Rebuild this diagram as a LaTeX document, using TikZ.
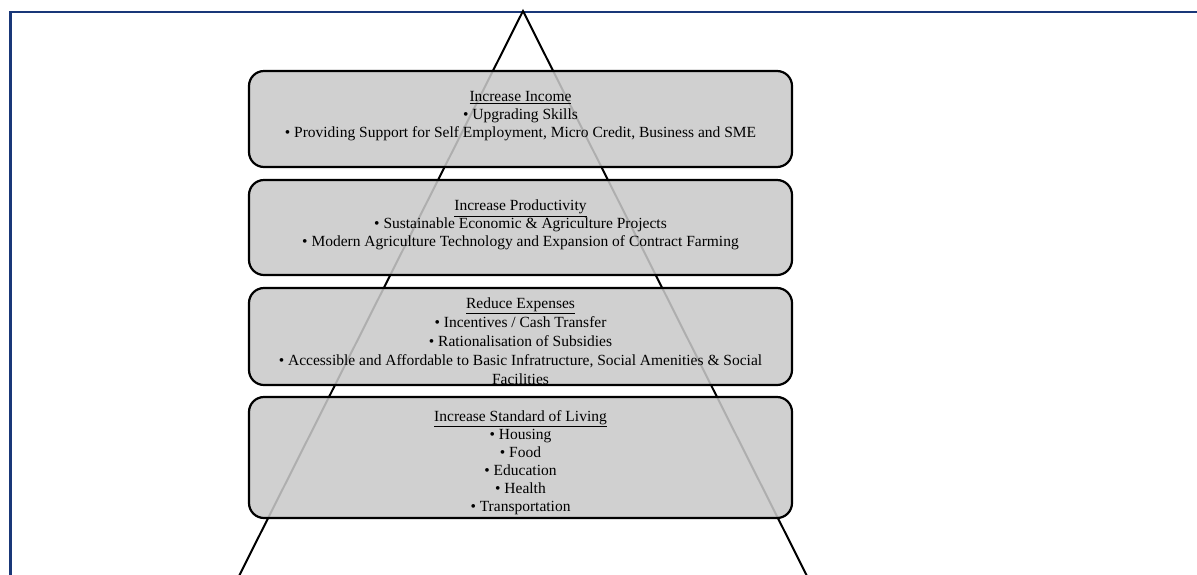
\documentclass[tikz,border=0pt]{standalone}
\usepackage{fontspec}
\setmainfont{Liberation Serif}
\definecolor{frameblue}{RGB}{25,55,120}
\definecolor{boxgray}{gray}{0.79}
\begin{document}
\begin{tikzpicture}[x=1pt,y=-1pt,
  box/.style={draw=black, line width=2.2pt, rounded corners=15pt, fill=boxgray, fill opacity=0.87, draw opacity=1, minimum width=543pt, inner sep=0pt},
  txt/.style={font=\fontsize{15.5}{18}\selectfont, align=center, anchor=north, inner sep=0pt},
  tri/.style={line width=2pt, draw=black},
  frame/.style={draw=frameblue, line width=2.5pt}]
\useasboundingbox (0,0) rectangle (1197,574);
\draw[frame] (10.5,12) rectangle (1230,610);
\coordinate (apex) at (523,11);
\coordinate (bl) at (238,578);
\coordinate (br) at (808,578);
\draw[tri] (bl) -- (apex) -- (br);
\node[box, minimum height=96pt] (b1) at (520.5,119) {};
\node[box, minimum height=95pt] (b2) at (520.5,227.5) {};
\node[box, minimum height=97pt] (b3) at (520.5,336.5) {};
\node[box, minimum height=121pt] (b4) at (520.5,457.5) {};
\node[txt] (t1) at (520.5,91) {\underline{Increase Income}\\• Upgrading Skills\\• Providing Support for Self Employment, Micro Credit, Business and SME};
\node[txt] (t2) at (520.5,200) {\underline{Increase Productivity}\\• Sustainable Economic \& Agriculture Projects\\• Modern Agriculture Technology and Expansion of Contract Farming};
\node[txt, font=\fontsize{15.5}{19}\selectfont] (t3) at (520.5,298) {\underline{Reduce Expenses}\\• Incentives / Cash Transfer\\• Rationalisation of Subsidies\\• Accessible and Affordable to Basic Infratructure, Social Amenities \& Social\\Facilities};
\node[txt] (t4) at (520.5,410) {\underline{Increase Standard of Living}\\• Housing\\• Food\\• Education\\• Health\\• Transportation};
\end{tikzpicture}
\end{document}
